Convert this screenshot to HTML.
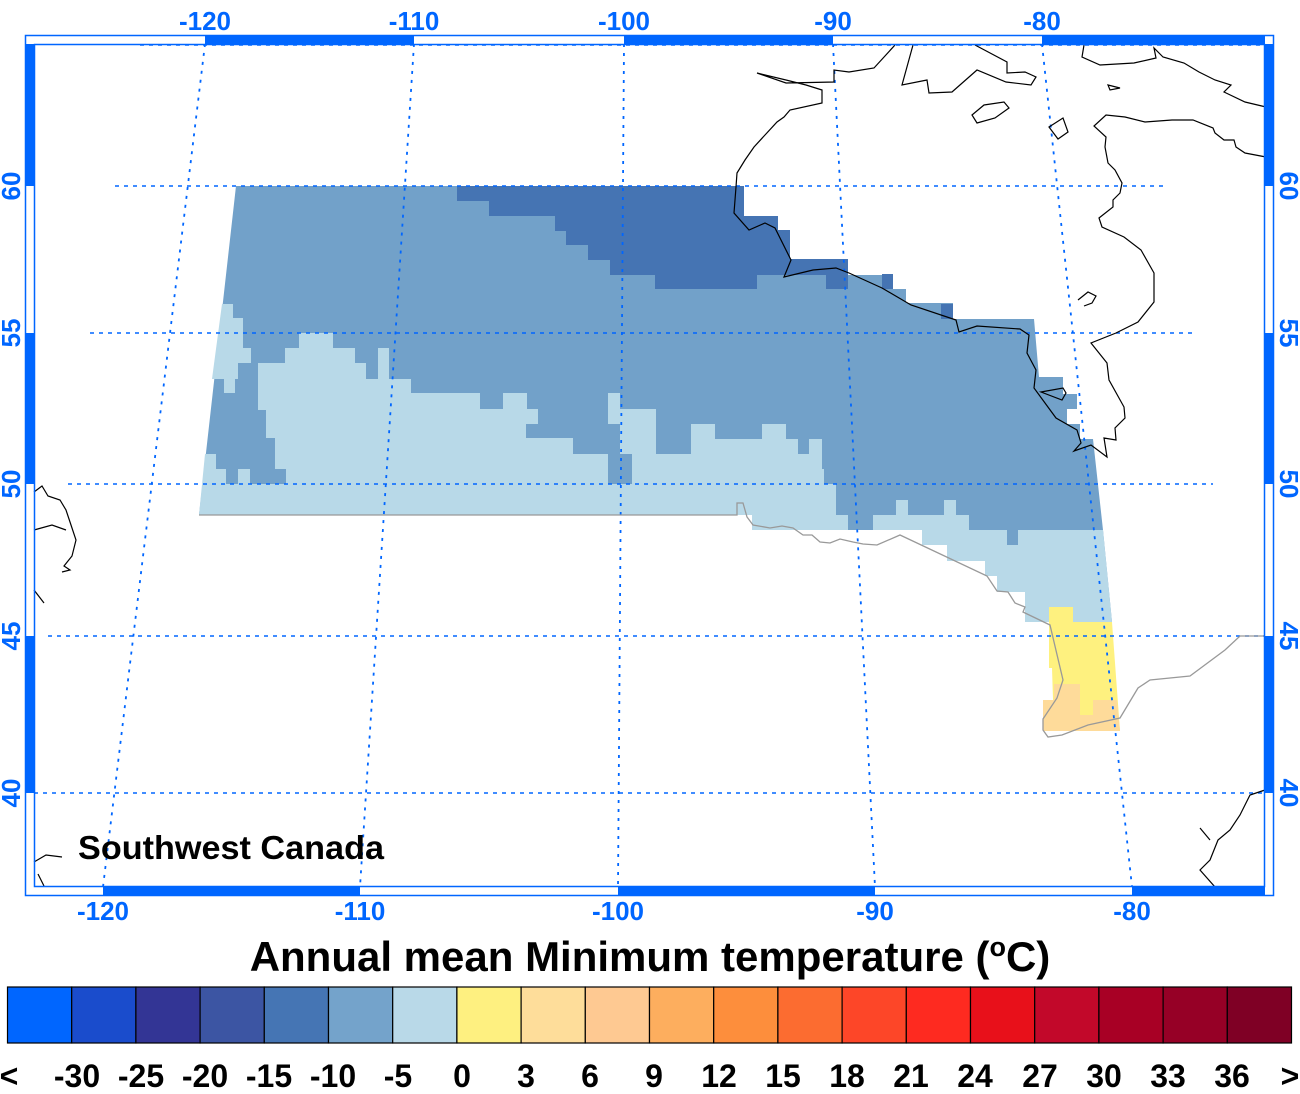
<!DOCTYPE html>
<html><head><meta charset="utf-8"><style>
html,body{margin:0;padding:0;background:#fff}
svg{display:block}
text{font-family:"Liberation Sans",Arial,sans-serif;font-weight:bold}
</style></head><body>
<svg width="1300" height="1094" viewBox="0 0 1300 1094" xmlns="http://www.w3.org/2000/svg">
<polygon fill="#72a1c9" points="236,186 744,186 744,216 778,216 778,230 790,230 790,259 848,259 848,275 893,275 893,289 906,289 906,303 953,303 953,319 1034,319 1039,377 1063,377 1063,394 1077,394 1077,409 1067,409 1067,424 1080,424 1080,439 1093,439 1103,530 1112,622 1025,622 1025,592 997,592 997,576 985,576 985,561 947,561 947,545 922,545 922,530 752,530 752,515 199,515"/>
<polygon fill="#b8d9e8" points="199,515 205,454 216,454 216,469 226,469 226,484 238,484 238,469 250,469 250,484 286,484 286,469 275,469 275,438 266,438 266,410 258,410 258,363 285,363 285,348 299,348 299,333 333,333 333,348 355,348 355,363 366,363 366,379 378,379 378,348 389,348 389,379 411,379 411,393 480,393 480,409 503,409 503,393 527,393 527,409 538,409 538,424 526,424 526,438 573,438 573,454 608,454 608,484 632,484 632,454 620,454 620,424 608,424 608,393 620,393 620,409 656,409 656,454 691,454 691,424 715,424 715,439 762,439 762,424 786,424 786,439 798,439 798,454 809,454 809,439 822,439 822,469 824,469 824,484 836,484 836,515 848,515 848,530 873,530 873,515 896,515 896,500 908,500 908,515 944,515 944,500 956,500 956,515 969,515 969,530 1007,530 1007,545 1018,545 1018,530 1103,530 1112,622 1025,622 1025,592 997,592 997,576 985,576 985,561 947,561 947,545 922,545 922,530 752,530 752,515"/>
<polygon fill="#b8d9e8" points="222,304 233,304 233,318 243,318 243,348 251,348 251,363 238,363 238,379 235,379 235,393 224,393 224,379 212,379"/>
<polygon fill="#4574b3" points="457,186 744,186 744,216 778,216 778,230 790,230 790,259 848,259 848,289 826,289 826,275 757,275 757,289 655,289 655,275 610,275 610,260 588,260 588,245 566,245 566,231 555,231 555,216 489,216 489,201 457,201"/>
<rect x="882" y="274" width="11" height="15" fill="#4574b3"/>
<rect x="941" y="304" width="12" height="15" fill="#4574b3"/>
<polygon fill="#fef17f" points="1049,607 1073,607 1073,622 1112,622 1120,731 1054,731 1052,668 1049,668"/>
<polygon fill="#fedb9a" points="1054,684 1080,684 1080,715 1093,715 1093,700 1117,700 1120,731 1043,731 1043,700 1054,700"/>
<g stroke="#0066ff" stroke-width="1.6" stroke-dasharray="4,5" fill="none">
<line x1="140" y1="45" x2="1265" y2="45"/>
<line x1="115" y1="186" x2="1168" y2="186"/>
<line x1="90" y1="333" x2="1197" y2="333"/>
<line x1="68" y1="484" x2="1213" y2="484"/>
<line x1="48" y1="636" x2="1265" y2="636"/>
<line x1="34" y1="793" x2="1265" y2="793"/>
</g>
<g stroke="#0066ff" stroke-width="1.8" stroke-dasharray="3,6" fill="none">
<line x1="205" y1="44" x2="103" y2="887"/>
<line x1="414" y1="44" x2="360" y2="887"/>
<line x1="624" y1="44" x2="618" y2="887"/>
<line x1="833" y1="44" x2="875" y2="887"/>
<line x1="1042" y1="44" x2="1132" y2="887"/>
</g>
<polyline fill="none" stroke="#999" stroke-width="1.3" points="199,515 737,515 737,503 743,503 747,517 753,525 770,528 782,526 793,528 803,535 812,535 820,542 830,543 840,539 853,542 863,544 877,545 900,535 987,576 997,591 1008,592 1015,603 1025,607 1023,612 1050,625 1063,680 1057,698 1043,719 1043,730 1048,737 1062,735 1088,725 1120,718 1138,688 1150,680 1190,676 1225,650 1240,636 1265,636"/>
<g fill="none" stroke="#000" stroke-width="1.2">
<polyline points="895,45 874,68 849,72 834,70 834,82 786,83 757,73 786,80 806,85 822,90 822,103 790,110 784,117 777,122 765,135 754,147 745,160 737,173 736,187 734,213 749,230 765,223 775,228 791,260 784,277 813,270 836,268 849,273 882,288 911,305 956,320 959,332 977,326 1020,329 1029,335 1027,353 1036,370 1034,388 1056,418 1077,430 1081,443 1074,451 1091,445 1107,457 1104,438 1116,440 1115,428 1125,418 1124,407 1109,380 1107,363 1091,343 1116,333 1138,322 1154,302 1154,273 1141,250 1124,237 1102,227 1099,218 1113,207 1113,200 1120,193 1122,183 1115,170 1108,163 1105,147 1106,137 1094,126 1106,115 1125,117 1145,122 1172,120 1193,120 1213,128 1215,133 1224,140 1234,140 1236,147 1245,153 1266,157"/>
<polygon points="1041,392 1063,388 1066,393 1062,400"/>
<polyline points="1084,45 1082,57 1100,65 1134,63 1156,58 1154,48 1163,57 1184,63 1199,72 1215,80 1231,85 1224,92 1245,102 1266,107"/>
<polyline points="913,45 902,85 927,80 929,93 952,92 977,70 1006,82 1031,85 1036,77 1025,72 1007,73 1007,62 975,45"/>
<polygon points="972,115 984,105 1004,102 1009,108 995,118 977,123"/>
<polygon points="1049,127 1063,118 1068,132 1058,139"/>
<polygon points="1108,85 1120,88 1110,90"/>
<polyline points="1078,300 1088,292 1096,296 1092,303 1084,306"/>
<polyline points="34,492 42,486 48,496 60,500 66,510 70,522 76,540 72,556 64,566 70,570 62,572"/>
<polyline points="34,530 52,525 66,530"/>
<polyline points="34,590 44,603"/>
<polyline points="34,862 46,855 62,857"/>
<polyline points="38,874 44,886"/>
<polyline points="1265,790 1250,795 1240,815 1230,830 1218,840 1210,860 1200,870 1215,887"/>
<polyline points="1200,828 1210,840"/>
</g>
<g fill="#0066ff">
<rect x="205" y="35" width="209" height="9"/><rect x="624" y="35" width="209" height="9"/><rect x="1042" y="35" width="223" height="9"/>
<rect x="103" y="887" width="257" height="9"/><rect x="618" y="887" width="257" height="9"/><rect x="1132" y="887" width="133" height="9"/>
<rect x="25" y="44" width="9" height="142"/><rect x="25" y="333" width="9" height="151"/><rect x="25" y="636" width="9" height="157"/>
<rect x="1265" y="44" width="9" height="142"/><rect x="1265" y="333" width="9" height="151"/><rect x="1265" y="636" width="9" height="157"/>
</g>
<rect x="25.5" y="35.5" width="1248" height="860" fill="none" stroke="#0066ff" stroke-width="1.5"/>
<rect x="34.5" y="44.5" width="1230" height="842" fill="none" stroke="#0066ff" stroke-width="1.5"/>
<g fill="#0066ff" font-size="26" text-anchor="middle">
<text x="205" y="30">-120</text><text x="414" y="30">-110</text><text x="624" y="30">-100</text><text x="833" y="30">-90</text><text x="1042" y="30">-80</text>
<text x="103" y="920">-120</text><text x="360" y="920">-110</text><text x="618" y="920">-100</text><text x="875" y="920">-90</text><text x="1132" y="920">-80</text>
<text transform="translate(20,186) rotate(-90)">60</text>
<text transform="translate(20,333) rotate(-90)">55</text>
<text transform="translate(20,484) rotate(-90)">50</text>
<text transform="translate(20,636) rotate(-90)">45</text>
<text transform="translate(20,793) rotate(-90)">40</text>
<text transform="translate(1280,186) rotate(90)">60</text>
<text transform="translate(1280,333) rotate(90)">55</text>
<text transform="translate(1280,484) rotate(90)">50</text>
<text transform="translate(1280,636) rotate(90)">45</text>
<text transform="translate(1280,793) rotate(90)">40</text>
</g>
<text x="78" y="859" font-size="33" fill="#000" textLength="306" lengthAdjust="spacingAndGlyphs">Southwest Canada</text>
<text x="650" y="971" font-size="42" text-anchor="middle" fill="#000">Annual mean Minimum temperature (<tspan font-size="27" dy="-15">o</tspan><tspan dy="15">C)</tspan></text>
<g stroke="#000" stroke-width="1.2">
<rect x="7.5" y="987" width="64.2" height="56" fill="#0066ff"/>
<rect x="71.7" y="987" width="64.2" height="56" fill="#1a4ccc"/>
<rect x="135.9" y="987" width="64.2" height="56" fill="#333595"/>
<rect x="200.1" y="987" width="64.2" height="56" fill="#3c55a3"/>
<rect x="264.3" y="987" width="64.2" height="56" fill="#4575b4"/>
<rect x="328.5" y="987" width="64.2" height="56" fill="#74a3cb"/>
<rect x="392.7" y="987" width="64.2" height="56" fill="#b9d9e8"/>
<rect x="456.9" y="987" width="64.2" height="56" fill="#fef080"/>
<rect x="521.1" y="987" width="64.2" height="56" fill="#fedd9a"/>
<rect x="585.3" y="987" width="64.2" height="56" fill="#fec992"/>
<rect x="649.5" y="987" width="64.2" height="56" fill="#fdae5e"/>
<rect x="713.7" y="987" width="64.2" height="56" fill="#fd8e3c"/>
<rect x="777.9" y="987" width="64.2" height="56" fill="#fc6c30"/>
<rect x="842.1" y="987" width="64.2" height="56" fill="#fd4628"/>
<rect x="906.3" y="987" width="64.2" height="56" fill="#fe2a20"/>
<rect x="970.5" y="987" width="64.2" height="56" fill="#e8101a"/>
<rect x="1034.7" y="987" width="64.2" height="56" fill="#c2082a"/>
<rect x="1098.9" y="987" width="64.2" height="56" fill="#a80025"/>
<rect x="1163.1" y="987" width="64.2" height="56" fill="#960026"/>
<rect x="1227.3" y="987" width="64.2" height="56" fill="#7f0025"/>
</g>
<g font-size="32" text-anchor="middle" fill="#000">
<text x="9" y="1087">&lt;</text>
<text x="77" y="1087">-30</text><text x="141" y="1087">-25</text><text x="205" y="1087">-20</text><text x="269" y="1087">-15</text><text x="333" y="1087">-10</text><text x="398" y="1087">-5</text>
<text x="462" y="1087">0</text><text x="526" y="1087">3</text><text x="590" y="1087">6</text><text x="654" y="1087">9</text><text x="719" y="1087">12</text><text x="783" y="1087">15</text><text x="847" y="1087">18</text><text x="911" y="1087">21</text><text x="975" y="1087">24</text><text x="1040" y="1087">27</text><text x="1104" y="1087">30</text><text x="1168" y="1087">33</text><text x="1232" y="1087">36</text>
<text x="1290" y="1087">&gt;</text>
</g>
</svg>
</body></html>
